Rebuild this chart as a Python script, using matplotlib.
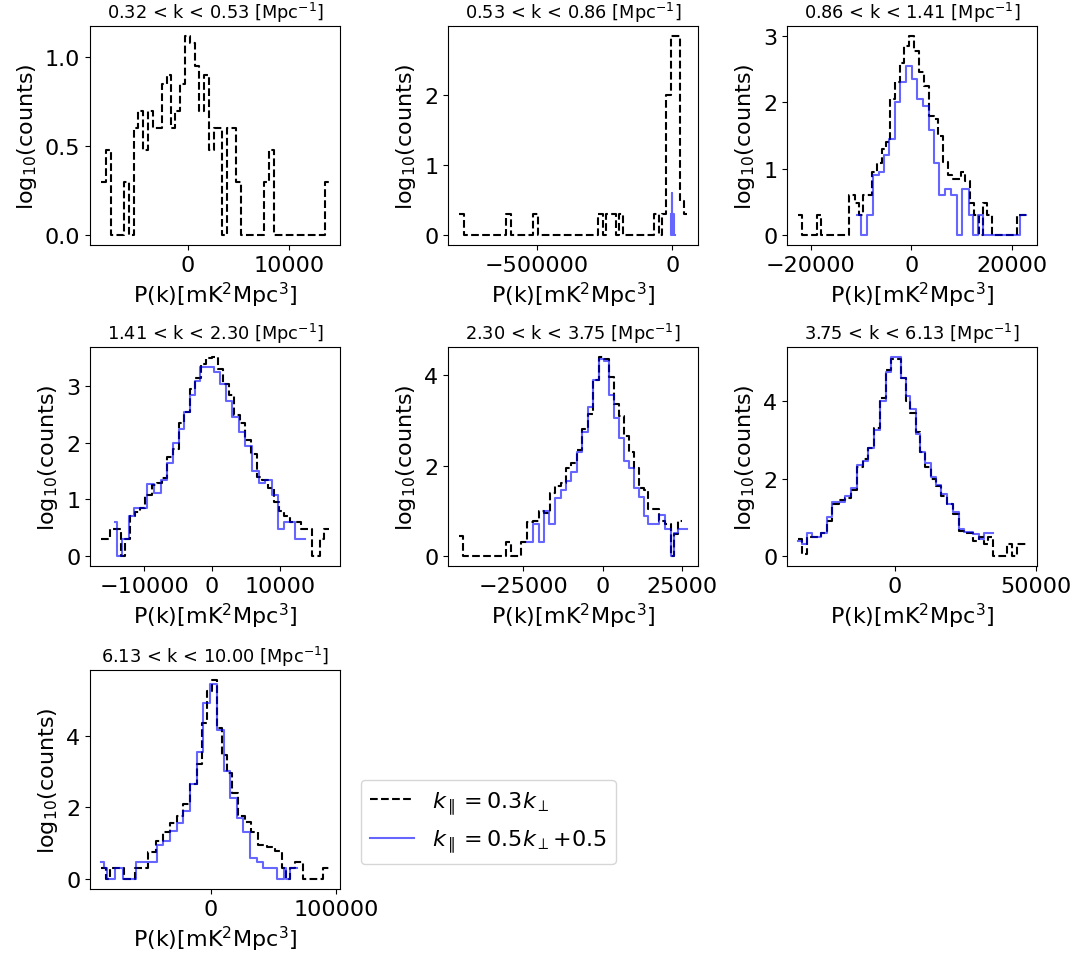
import matplotlib
matplotlib.use("Agg")
import matplotlib.pyplot as plt
import numpy as np

titles = ["0.32 < k < 0.53 [Mpc$^{-1}$]", "0.53 < k < 0.86 [Mpc$^{-1}$]",
          "0.86 < k < 1.41 [Mpc$^{-1}$]", "1.41 < k < 2.30 [Mpc$^{-1}$]",
          "2.30 < k < 3.75 [Mpc$^{-1}$]", "3.75 < k < 6.13 [Mpc$^{-1}$]",
          "6.13 < k < 10.00 [Mpc$^{-1}$]"]

# k_par = 0.3 k_perp  (bin edges, log10 counts)
edges_a1 = [-8500, -8050, -7550, -6250, -5750, -5250, -4850, -4400, -3950, -3400, -2550,
            -2050, -1650, -1250, -750, -300, 250, 700, 1150, 1600, 2100, 2550, 3350,
            3850, 4750, 5250, 7450, 7950, 8450, 13500, 13850]
logc_a1 = [0.30, 0.48, 0.0, 0.30, 0.0, 0.60, 0.70, 0.48, 0.70, 0.60, 0.85, 0.90, 0.60,
           0.70, 0.85, 1.12, 1.08, 0.95, 0.70, 0.90, 0.48, 0.60, 0.0, 0.60, 0.30, 0.0,
           0.30, 0.48, 0.0, 0.30]

edges_a2 = [-785500, -767000, -612800, -594400, -513500, -495200, -274600, -256200,
            -245200, -226800, -208400, -197400, -182700, -68700, -50400, -39300, -24600,
            -6250, 26800, 41500, 52600]
logc_a2 = [0.30, 0.0, 0.30, 0.0, 0.30, 0.0, 0.30, 0.0, 0.30, 0.30, 0.0, 0.30, 0.0, 0.30,
           0.0, 0.30, 2.00, 2.84, 0.48, 0.30]

edges_a3 = [-22510, -21710, -18730, -17940, -12450, -11320, -10460, -9670, -7810, -6820,
            -5830, -4970, -4170, -3310, -2320, -1390, -530, 460, 1590, 2450, 3440, 4440,
            5300, 6290, 7280, 8080, 9930, 10720, 11590, 12510, 13570, 14370, 15160, 16020,
            20990, 22770]
logc_a3 = [0.30, 0.0, 0.30, 0.0, 0.60, 0.48, 0.30, 0.60, 0.95, 1.08, 1.30, 1.40, 2.05,
           2.30, 2.60, 2.85, 3.00, 2.78, 2.45, 2.25, 1.80, 1.75, 1.50, 1.10, 0.90, 0.85,
           0.95, 0.82, 0.48, 0.30, 0.0, 0.48, 0.30, 0.0, 0.30]

edges_a4 = [-16370, -15040, -13460, -12820, -12080, -11340, -10600, -9860, -8870, -8130,
            -7400, -6660, -5770, -4930, -4090, -3300, -2470, -1630, -840, 0, 840, 1630,
            2470, 3200, 4090, 4930, 5770, 6660, 7400, 8230, 9120, 9860, 10700, 11490,
            13160, 14790, 16020, 16520, 17250]
logc_a4 = [0.30, 0.48, 0.0, 0.30, 0.70, 0.78, 0.85, 1.08, 1.25, 1.30, 1.38, 1.75, 1.90,
           2.35, 2.55, 2.95, 3.15, 3.40, 3.50, 3.52, 3.30, 3.05, 2.85, 2.50, 2.35, 2.05,
           1.80, 1.40, 1.35, 1.20, 0.95, 0.80, 0.70, 0.60, 0.48, 0.0, 0.30, 0.48]

edges_a5 = [-45010, -43970, -30430, -28860, -25740, -23650, -21780, -20010, -18440,
            -16570, -15110, -13230, -11670, -9900, -8020, -6460, -4690, -3020, -1250, 310,
            1880, 3440, 5000, 6560, 8130, 9690, 11250, 12820, 14380, 17820, 19590, 21360,
            22400, 23760, 24800]
logc_a5 = [0.45, 0.0, 0.30, 0.0, 0.30, 0.75, 0.78, 1.00, 0.95, 1.40, 1.55, 1.62, 1.95,
           2.05, 2.35, 2.80, 3.15, 3.90, 4.40, 4.35, 3.95, 3.35, 3.10, 2.65, 2.30, 1.95,
           1.50, 1.45, 1.05, 0.78, 0.70, 0.0, 0.48, 0.78]

edges_a6 = [-34160, -32740, -31200, -29200, -26240, -24110, -22100, -19740, -17730,
            -15600, -13240, -11230, -9340, -7330, -5320, -3190, -1420, 2130, 3900, 5440,
            7450, 8870, 10760, 12770, 14540, 16550, 18680, 20690, 22810, 24590, 27900,
            29900, 31680, 33100, 34870, 39720, 41720, 43260, 46450]
logc_a6 = [0.45, 0.05, 0.50, 0.48, 0.60, 0.90, 1.35, 1.45, 1.50, 1.70, 2.30, 2.50, 2.80,
           3.30, 4.10, 4.80, 5.10, 4.60, 4.00, 3.70, 3.20, 2.70, 2.30, 2.00, 1.80, 1.55,
           1.35, 1.10, 0.65, 0.60, 0.40, 0.48, 0.30, 0.48, 0.0, 0.30, 0.0, 0.30]

edges_a7 = [-87480, -83480, -80280, -69610, -60810, -50140, -44010, -38670, -32800,
            -27470, -22140, -16800, -11470, -7470, -3470, 530, 4530, 8530, 12530, 16540,
            21870, 27200, 31740, 37870, 44540, 51210, 56540, 60010, 63210, 67210, 73340,
            89610, 93880]
logc_a7 = [0.30, 0.0, 0.30, 0.0, 0.30, 0.75, 1.05, 1.30, 1.55, 1.75, 2.10, 2.65, 3.20,
           4.35, 5.25, 5.55, 4.20, 3.45, 2.95, 2.40, 1.75, 1.60, 1.30, 0.95, 0.90, 0.78,
           0.30, 0.0, 0.30, 0.48, 0.0, 0.30]

# k_par = 0.5 k_perp + 0.5
edges_b2 = [-6000, -4000, -2000, 0, 2000, 4000, 6000, 8000]
logc_b2 = [0.30, 0.0, 0.60, 0.30, 0.0, 0.30, 0.0]

edges_b3 = [-10790, -10130, -8800, -7680, -6490, -5490, -4370, -3310, -2320, -1060, 130,
            1130, 2250, 3440, 4440, 5430, 6750, 7940, 9070, 10060, 11390, 12380, 13370,
            14370, 21650, 22770]
logc_b3 = [0.30, 0.0, 0.30, 0.90, 0.95, 1.20, 1.45, 2.00, 2.30, 2.55, 2.35, 2.05, 1.95,
           1.58, 1.08, 0.60, 0.70, 0.60, 0.0, 0.70, 0.30, 0.0, 0.30, 0.0, 0.30]

edges_b4 = [-14300, -14050, -13310, -12330, -11590, -9610, -8530, -7540, -6660, -5770,
            -4930, -4090, -3300, -2470, -1730, -740, 250, 1130, 2120, 2960, 3940, 4930,
            5920, 6900, 7890, 8870, 9710, 10700, 12330, 13800]
logc_b4 = [0.60, 0.0, 0.30, 0.70, 0.85, 1.28, 1.12, 1.35, 1.65, 2.00, 2.25, 2.55, 2.85,
           3.10, 3.35, 3.35, 3.25, 3.05, 2.75, 2.45, 2.20, 1.95, 1.50, 1.30, 1.35, 1.08,
           0.48, 0.60, 0.30]

edges_b5 = [-23860, -21780, -20010, -18440, -16880, -15110, -13230, -11670, -9900, -8020,
            -6460, -4690, -3020, -1250, 310, 1880, 3440, 5000, 6560, 8130, 9690, 11250,
            12820, 14380, 17820, 19590, 21360, 22400, 23760, 26360]
logc_b5 = [0.30, 0.70, 0.30, 1.00, 0.70, 1.28, 1.45, 1.65, 1.85, 2.30, 2.75, 3.30, 3.90,
           4.35, 4.30, 3.55, 3.05, 2.60, 2.10, 1.95, 1.50, 1.30, 0.88, 0.70, 0.90, 0.60,
           0.0, 0.50, 0.60]

edges_b6 = [-34160, -32980, -31200, -29200, -26240, -24110, -22100, -17730, -15600,
            -13240, -11230, -9340, -7330, -5320, -3190, -1420, 2130, 3900, 5440, 7450,
            8870, 10760, 12770, 14540, 16550, 18680, 20690, 22810, 24590, 27900, 29900,
            31680, 34990]
logc_b6 = [0.40, 0.30, 0.60, 0.50, 0.60, 1.00, 1.40, 1.55, 1.75, 2.35, 2.45, 2.80, 3.25,
           4.00, 4.75, 5.15, 4.60, 4.15, 3.80, 3.15, 2.70, 2.40, 2.05, 1.85, 1.60, 1.35,
           1.15, 0.70, 0.62, 0.58, 0.45, 0.60]

edges_b7 = [-87480, -85610, -83210, -76810, -70140, -59470, -43470, -38140, -32800,
            -27470, -22140, -16800, -11470, -6130, -800, 5070, 10400, 15200, 20540, 25870,
            31210, 36540, 41870, 52540, 57870, 60010, 63210, 68540]
logc_b7 = [0.48, 0.30, 0.0, 0.30, 0.0, 0.48, 0.95, 1.05, 1.35, 1.55, 1.90, 2.65, 3.55,
           4.90, 5.45, 4.15, 3.00, 2.25, 1.70, 1.30, 0.60, 0.48, 0.30, 0.0, 0.30, 0.0,
           0.30]

series_a = [(edges_a1, logc_a1), (edges_a2, logc_a2), (edges_a3, logc_a3),
            (edges_a4, logc_a4), (edges_a5, logc_a5), (edges_a6, logc_a6),
            (edges_a7, logc_a7)]
series_b = [None, (edges_b2, logc_b2), (edges_b3, logc_b3), (edges_b4, logc_b4),
            (edges_b5, logc_b5), (edges_b6, logc_b6), (edges_b7, logc_b7)]

W, H = 1078, 962
fig = plt.figure(figsize=(W / 100, H / 100), dpi=100)

col_left = [90, 448, 787]
row_top = [27, 348, 671]
aw, ah = 250, 219

for i in range(7):
    r, c = divmod(i, 3)
    ax = fig.add_axes([col_left[c] / W, 1 - (row_top[r] + ah) / H, aw / W, ah / H])
    e, v = series_a[i]
    ax.step(e, np.append(v, v[-1]), where="post", color="k", ls="--", lw=1.5,
            label=r"$k_\parallel = 0.3k_\perp$")
    if series_b[i] is not None:
        e, v = series_b[i]
        ax.step(e, np.append(v, v[-1]), where="post", color="blue", alpha=0.6, lw=1.5,
                label=r"$k_\parallel = 0.5k_\perp$+0.5")
    ax.set_title(titles[i], fontsize=12.8)
    ax.set_xlabel(r"P(k)[mK$^2$Mpc$^3$]", fontsize=16)
    ax.set_ylabel(r"log$_{10}$(counts)", fontsize=16)
    ax.tick_params(labelsize=16)
    if i == 6:
        handles, labels = ax.get_legend_handles_labels()

fig.legend(handles, labels, loc="upper left", bbox_to_anchor=(361 / W, 1 - 781 / H),
           borderaxespad=0, fontsize=16)

fig.savefig("out.png", dpi=100)
